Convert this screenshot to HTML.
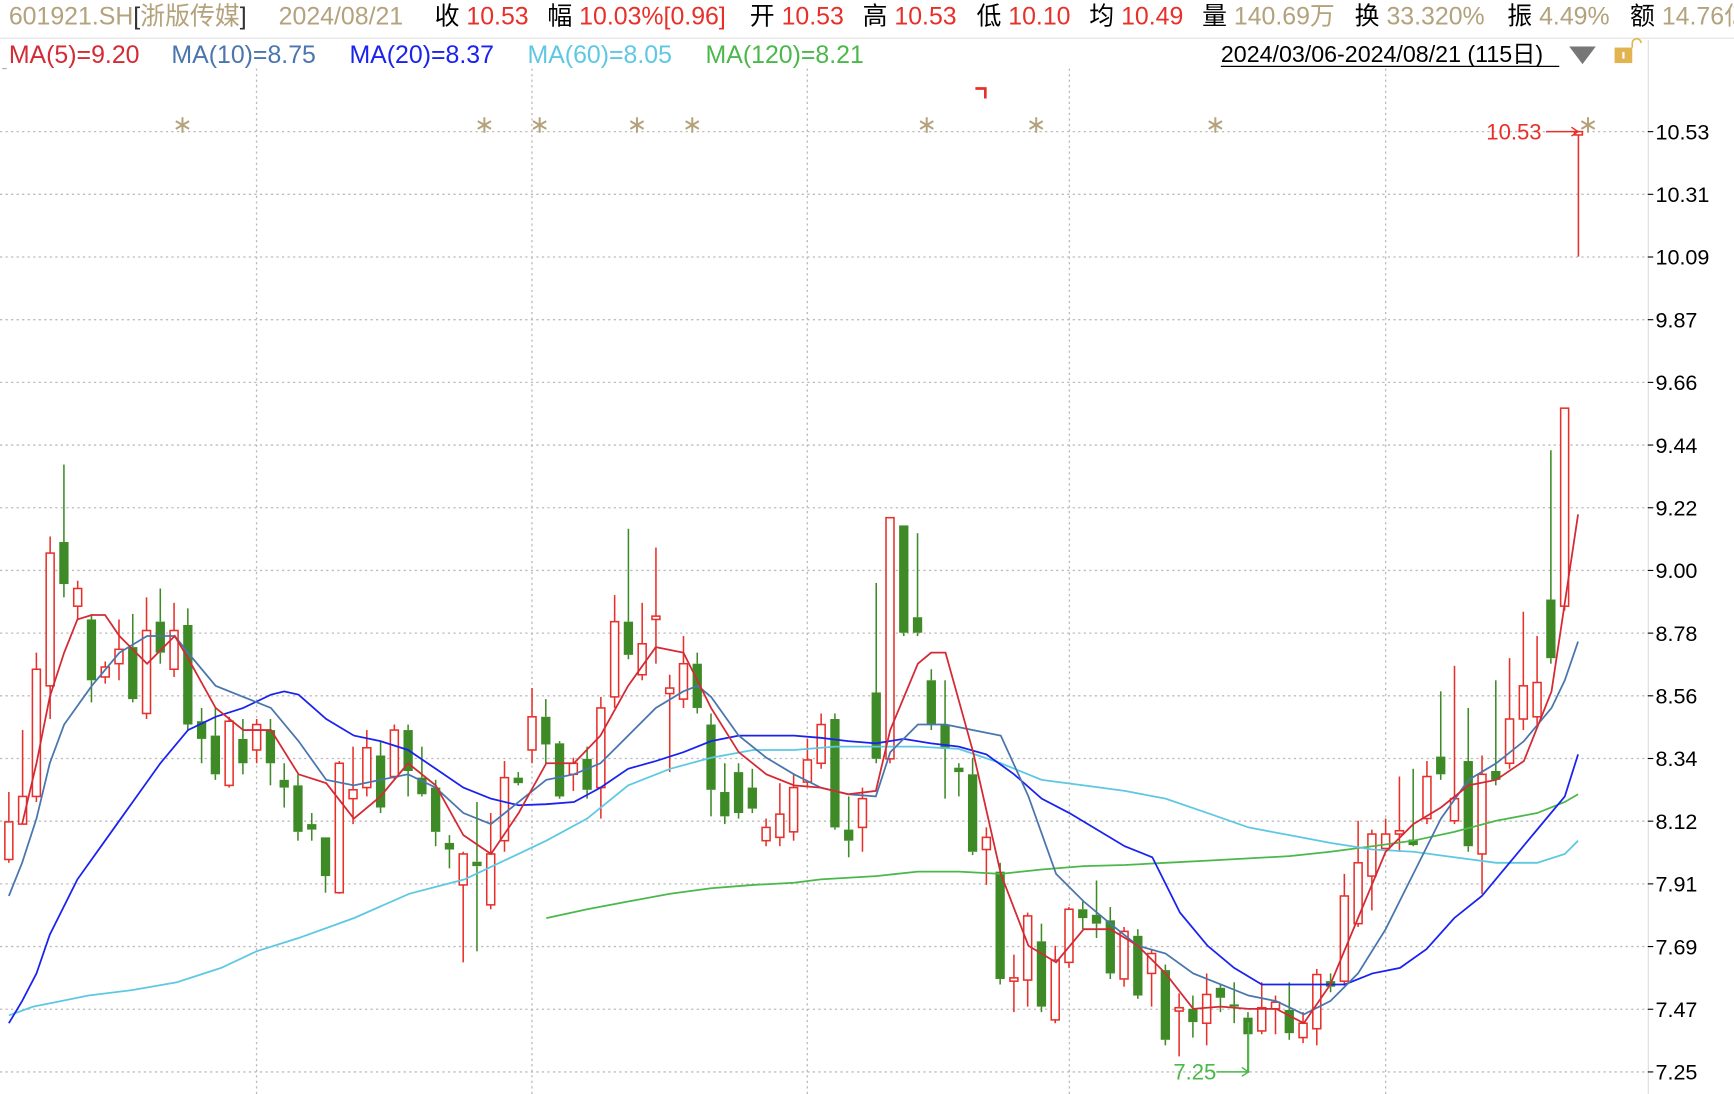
<!DOCTYPE html>
<html><head><meta charset="utf-8"><style>
html,body{margin:0;padding:0;background:#fff;}
svg{display:block;}
text{font-family:"Liberation Sans","Noto Sans CJK SC",sans-serif;}
</style></head><body>
<svg id="c" width="1734" height="1094" viewBox="0 0 1568 989" preserveAspectRatio="none" xmlns="http://www.w3.org/2000/svg">
<rect width="1568" height="989" fill="#fff"/>
<g font-size="22.5">
<text x="8" y="22" fill="#b3a27c">601921.SH<tspan fill="#333">[</tspan>浙版传媒<tspan fill="#333">]</tspan></text>
<text x="252" y="22" fill="#b3a27c">2024/08/21</text>
<text x="393" y="22" fill="#000">收 <tspan fill="#e8302a">10.53</tspan></text>
<text x="495" y="22" fill="#000">幅 <tspan fill="#e8302a">10.03%[0.96]</tspan></text>
<text x="678" y="22" fill="#000">开 <tspan fill="#e8302a">10.53</tspan></text>
<text x="780" y="22" fill="#000">高 <tspan fill="#e8302a">10.53</tspan></text>
<text x="883" y="22" fill="#000">低 <tspan fill="#e8302a">10.10</tspan></text>
<text x="985" y="22" fill="#000">均 <tspan fill="#e8302a">10.49</tspan></text>
<text x="1087" y="22" fill="#000">量 <tspan fill="#b3a27c">140.69万</tspan></text>
<text x="1225" y="22" fill="#000">换 <tspan fill="#b3a27c">33.320%</tspan></text>
<text x="1363" y="22" fill="#000">振 <tspan fill="#b3a27c">4.49%</tspan></text>
<text x="1474" y="22" fill="#000">额 <tspan fill="#b3a27c">14.76亿</tspan></text>
</g>
<line x1="0" y1="34.5" x2="1568" y2="34.5" stroke="#e2e2e2" stroke-width="1"/>
<g font-size="22.5">
<text x="8" y="57" fill="#d42a35">MA(5)=9.20</text>
<text x="155" y="57" fill="#4a76ad">MA(10)=8.75</text>
<text x="316" y="57" fill="#1a22f0">MA(20)=8.37</text>
<text x="477" y="57" fill="#5ec8e2">MA(60)=8.05</text>
<text x="638" y="57" fill="#4bb84b">MA(120)=8.21</text>
</g>
<text x="1104" y="56" font-size="21" fill="#000">2024/03/06-2024/08/21 (115日)</text>
<line x1="1104" y1="60" x2="1410" y2="60" stroke="#000" stroke-width="1.2"/>
<polygon points="1419,42 1443,42 1431,58" fill="#777"/>
<rect x="1460" y="43" width="16" height="14" fill="#e2b450"/>
<rect x="1467" y="47" width="2" height="6" fill="#fff"/>
<path d="M1476,43 v-4 a4,4 0 0 1 8,0" fill="none" stroke="#e2b450" stroke-width="1.5"/>
<g id="grid" stroke="#bbb" stroke-width="1.2" stroke-dasharray="2,3"></g>
<line x1="1490.5" y1="36" x2="1490.5" y2="989" stroke="#ddd" stroke-width="1"/>
<line x1="2" y1="62" x2="6" y2="62" stroke="#aaa"/>
<g id="axis" font-size="19.5" fill="#000"></g>
<g id="stars" stroke="#b3a27c" stroke-width="1.8"></g>
<g id="cnd"></g>
<g id="mas" fill="none" stroke-width="1.6"></g>
<path d="M882,80 h9 v9" fill="none" stroke="#e8302a" stroke-width="2.4"/>
<text x="1344" y="126" font-size="20" fill="#e8302a">10.53</text>
<path d="M1398,119 h29 m-6,-4 l6,4 l-6,4" fill="none" stroke="#e8302a" stroke-width="1.3"/>
<text x="1061" y="976" font-size="20" fill="#4bb84b">7.25</text>
<path d="M1100,969 h29 v-45 m-6,41 l6,4 l-6,4" fill="none" stroke="#4bb84b" stroke-width="1.3"/>
</svg>
<script>
var NS="http://www.w3.org/2000/svg";
function el(p,t,a,txt){var e=document.createElementNS(NS,t);for(var k in a)e.setAttribute(k,a[k]);if(txt)e.textContent=txt;p.appendChild(e);return e;}
var g=document.getElementById('grid'),ax=document.getElementById('axis');
var labs=["10.53","10.31","10.09","9.87","9.66","9.44","9.22","9.00","8.78","8.56","8.34","8.12","7.91","7.69","7.47","7.25"];
for(var i=0;i<16;i++){var y=119+i*56.67;el(g,'line',{x1:0,y1:y,x2:1490,y2:y});el(ax,'line',{x1:1490,y1:y,x2:1495,y2:y,stroke:'#000'});el(ax,'text',{x:1497,y:y+7},labs[i]);}
[232,481,730,967,1253].forEach(function(x){el(g,'line',{x1:x,y1:62,x2:x,y2:989});});
var st=document.getElementById('stars');
[165,438,488,576,626,838,937,1099,1436].forEach(function(x){var y=113;
 el(st,'path',{d:'M'+x+','+(y-7)+'v14M'+(x-6)+','+(y-3.5)+'l12,7M'+(x-6)+','+(y+3.5)+'l12,-7'});});
var D=[
['r',743,777,716,780],['r',720,745,660,745],['r',605,720,590,725],['r',500,620,485,650],['g',490,528,420,540],
['r',532,548,525,560],['g',560,615,555,635],['r',603,612,598,618],['r',587,600,560,615],['g',585,632,555,635],
['r',570,645,540,650],['g',562,590,532,600],['r',570,605,545,612],['g',565,655,550,660],['g',652,668,640,690],
['g',665,700,640,705],['r',652,710,648,712],['g',668,690,650,700],['r',655,678,650,690],['g',660,690,650,710],
['g',705,712,690,730],['g',710,752,700,760],['g',745,750,735,760],['g',757,792,757,807],['r',690,807,688,808],
['r',714,722,675,745],['r',676,712,660,720],['g',683,730,670,735],['r',660,702,655,705],['g',660,697,655,720],
['g',703,718,675,720],['g',712,752,705,765],['g',762,768,755,785],['r',772,800,770,870],['g',779,783,725,860],
['r',772,818,735,822],['r',703,760,688,770],['g',703,708,698,710],['r',648,678,622,690],['g',648,673,632,690],
['g',672,720,670,722],['r',690,700,685,715],['g',686,714,675,722],['r',640,712,630,740],['r',562,630,538,640],
['g',562,592,478,596],['r',582,610,545,615],['r',557,560,495,600],['r',622,627,610,698],['r',600,632,575,640],
['g',600,640,590,645],['g',655,714,645,738],['g',716,738,690,745],['g',698,735,690,740],['g',712,731,695,735],
['r',748,760,740,765],['r',736,757,708,765],['r',712,752,700,760],['r',687,707,668,712],['r',655,690,645,695],
['g',650,748,645,750],['g',750,760,720,775],['r',722,748,712,770],['g',626,686,527,690],['r',468,686,468,690],
['g',475,572,475,575],['g',558,572,482,575],['g',615,655,605,660],['g',655,677,615,722],['g',694,698,690,720],
['g',700,770,685,773],['r',757,768,748,800],['g',788,885,780,890],['r',884,887,863,915],['r',828,886,825,910],
['g',851,910,835,915],['r',868,922,855,925],['r',822,870,820,875],['g',822,830,815,840],['g',827,835,796,848],
['g',832,880,820,885],['r',842,885,838,892],['g',846,900,840,903],['r',862,880,858,910],['g',877,940,872,945],
['r',911,914,898,955],['g',912,924,900,938],['r',899,925,880,945],['g',893,902,890,915],['g',908,910,888,925],
['g',920,935,915,970],['r',911,932,888,935],['r',906,912,900,935],['g',913,934,888,940],['r',925,938,915,943],
['r',881,930,876,945],['g',887,892,880,897],['r',810,887,790,891],['r',780,835,742,838],['r',754,792,750,823],
['r',754,767,740,770],['r',751,754,702,770],['g',759,764,695,765],['r',702,740,688,745],['g',684,700,625,705],
['r',722,742,602,745],['g',688,765,640,770],['r',700,772,683,808],['g',697,705,615,710],['r',650,690,595,695],
['r',620,650,553,660],['r',617,648,575,655],['g',542,595,407,600],['r',369,548,369,552],['r',119,122,119,232]
];
var c=document.getElementById('cnd');
D.forEach(function(d,i){var x=8+12.45*i,col=d[0]=='r'?'#e8302a':'#3e8a27';
 var h=Math.max(d[2]-d[1],2);
 if(d[3]<d[1])el(c,'line',{x1:x,y1:d[3],x2:x,y2:d[1],stroke:col,'stroke-width':1.4});
 if(d[4]>d[1]+h)el(c,'line',{x1:x,y1:d[1]+h,x2:x,y2:d[4],stroke:col,'stroke-width':1.4});
 if(d[0]=='r')el(c,'rect',{x:x-3.6,y:d[1],width:7.2,height:h,fill:'#fff',stroke:col,'stroke-width':1.4});
 else el(c,'rect',{x:x-4.2,y:d[1],width:8.4,height:h,fill:col});
});
var M=document.getElementById('mas');
function pl(col,s){el(M,'polyline',{points:s,stroke:col});}
pl('#4bb84b','494,830 531,822 568,815 606,808 643,803 681,800 718,798 742,795 792,792 830,788 867,788 905,790 942,786 980,783 1017,782 1054,780 1092,778 1129,776 1166,774 1203,770 1241,765 1278,760 1315,752 1353,742 1390,735 1415,725 1427,718');
pl('#5ec8e2','8,918 30,910 55,905 80,900 120,895 160,888 200,875 232,860 270,848 320,830 370,808 420,795 456,778 494,760 531,740 568,710 606,695 643,685 681,678 718,678 755,675 792,675 830,675 867,677 905,690 942,705 980,710 1017,715 1054,722 1092,735 1129,748 1166,755 1203,762 1241,768 1278,770 1315,775 1353,780 1390,780 1415,772 1427,760');
pl('#1a22f0','8,925 20,905 33,880 45,845 70,795 95,760 120,725 145,690 170,660 195,648 220,640 245,628 257,625 270,628 295,650 320,665 344,670 369,678 394,695 419,712 444,722 469,728 494,727 519,725 543,712 568,695 593,688 618,680 643,670 668,665 693,665 718,665 742,667 767,670 792,672 817,668 842,672 867,675 892,682 917,700 942,722 967,735 992,750 1017,765 1042,775 1067,825 1092,855 1116,875 1141,890 1166,890 1191,890 1216,890 1241,880 1266,875 1290,858 1315,830 1340,810 1365,780 1390,750 1415,720 1427,682');
pl('#4a76ad','8,810 20,780 33,740 45,690 58,655 83,620 108,590 133,575 158,575 170,590 195,620 220,630 245,640 270,670 295,705 320,710 344,705 369,700 394,712 419,735 444,745 469,725 494,705 519,700 543,690 568,665 593,640 618,625 631,620 643,630 668,665 693,685 718,700 742,712 767,718 792,720 805,680 830,655 855,655 880,660 905,665 930,720 955,790 980,815 1004,835 1029,855 1054,862 1079,880 1104,890 1129,900 1154,905 1179,917 1203,905 1228,880 1253,840 1278,790 1303,740 1328,705 1353,690 1378,670 1403,640 1415,615 1427,580');
pl('#d42a35','20,745 33,690 45,630 58,590 70,560 83,556 95,556 108,575 133,600 158,575 170,595 195,640 220,660 245,660 270,700 295,708 320,740 344,720 369,690 394,710 419,755 444,772 469,735 494,690 519,690 543,665 568,620 593,585 618,590 643,640 668,680 693,700 718,710 742,712 767,718 792,715 805,660 830,600 842,590 855,590 880,680 905,790 930,855 955,870 980,840 1004,840 1029,855 1054,880 1079,912 1104,910 1129,912 1154,912 1179,925 1203,890 1228,830 1253,770 1278,745 1303,730 1328,710 1353,705 1378,688 1403,625 1415,545 1427,465');
</script>
</body></html>
